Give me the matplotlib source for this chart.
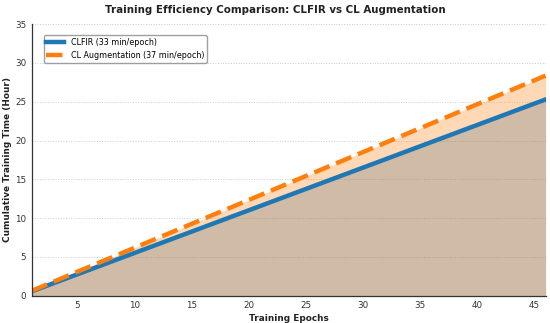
import matplotlib.pyplot as plt

# cumulative training time (hours) at selected epochs
epochs = [1, 5, 10, 15, 20, 25, 30, 35, 40, 45, 46]
clfir_hours = [0.55, 2.75, 5.5, 8.25, 11.0, 13.75, 16.5, 19.25, 22.0, 24.75, 25.3]
claug_hours = [0.62, 3.08, 6.17, 9.25, 12.33, 15.42, 18.5, 21.58, 24.67, 27.75, 28.37]

labels = ['CLFIR (33 min/epoch)', 'CL Augmentation (37 min/epoch)']

fig, ax = plt.subplots(figsize=(5.5, 3.23), dpi=100)

ax.plot(epochs, clfir_hours, color='#1f77b4', linewidth=3.2, label=labels[0])
ax.plot(epochs, claug_hours, color='#ff7f0e', linewidth=3.2, linestyle='--', label=labels[1])
ax.fill_between(epochs, clfir_hours, color='#1f77b4', alpha=0.3, linewidth=0)
ax.fill_between(epochs, claug_hours, color='#ff7f0e', alpha=0.3, linewidth=0)

ax.set_xlim(1, 46)
ax.set_ylim(0, 35)
ax.set_xticks([5, 10, 15, 20, 25, 30, 35, 40, 45])
ax.set_yticks([0, 5, 10, 15, 20, 25, 30, 35])
ax.tick_params(labelsize=6.3, colors='#333333', length=0, pad=4)

fig.text(0.5, 0.968, 'Training Efficiency Comparison: CLFIR vs CL Augmentation',
         fontsize=7.4, fontweight='bold', color='#222222', ha='center', va='center')
ax.set_xlabel('Training Epochs', fontsize=6.4, fontweight='bold', color='#222222', labelpad=3)
ax.set_ylabel('Cumulative Training Time (Hour)', fontsize=6.4, fontweight='bold', color='#222222', labelpad=2)

ax.grid(axis='y', linestyle=':', color='#cccccc', linewidth=0.7)
ax.set_axisbelow(True)
for s in ['top', 'right']:
    ax.spines[s].set_visible(False)
for s in ['left', 'bottom']:
    ax.spines[s].set_color('#333333')
    ax.spines[s].set_linewidth(0.9)

ax.legend(loc='upper left', fontsize=5.8, frameon=True, edgecolor='#888888',
          bbox_to_anchor=(0.015, 0.975), handlelength=2.2, borderpad=0.35)

plt.subplots_adjust(left=0.058, right=0.992, top=0.925, bottom=0.085)
plt.savefig('out.png', dpi=100)
